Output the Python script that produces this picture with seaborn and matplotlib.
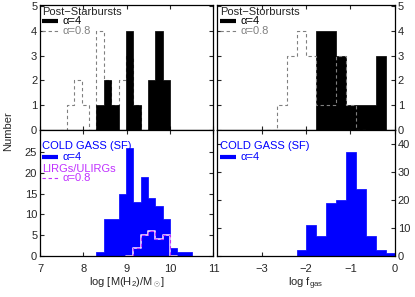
import numpy as np
import pandas as pd
import matplotlib
matplotlib.use('Agg')
import matplotlib.pyplot as plt
import seaborn as sns

# histogram bins: log M(H2) in 0.17 dex steps, log f_gas in 0.2225 dex steps
mass_width = 0.17
fgas_width = 0.2225

# Post-Starbursts, log M(H2)  (lower edge of first bin, counts)
ps_mass_a4_lo = 8.30
ps_mass_a4 = [1, 2, 1, 0, 4, 1, 0, 2, 4, 2]
ps_mass_a08_lo = 7.45
ps_mass_a08 = [0, 1, 2, 1, 0, 4, 2, 1, 2, 3, 1, 0]

# Post-Starbursts, log f_gas
ps_fgas_a4_lo = -1.767
ps_fgas_a4 = [4, 4, 3, 1, 1, 1, 3]
ps_fgas_a08_lo = -2.8795
ps_fgas_a08 = [0, 1, 3, 4, 3, 1, 1, 3, 1, 0]

# COLD GASS (SF) and LIRGs/ULIRGs
cg_mass_lo = 8.30
cg_mass = [1, 9, 9, 15, 26, 13, 19, 14, 12, 9, 2, 1, 1]
lirg_mass_lo = 8.98
lirg_mass = [0, 2, 5, 6, 4, 5, 0]
cg_fgas_lo = -2.212
cg_fgas = [2, 11, 7, 19, 20, 37, 24, 7, 2, 1]

mass_ticks = [7, 8, 9, 10, 11]
fgas_ticks = [-3, -2, -1, 0]

BLUE = '#0000ff'
MAG = '#c030ff'
GRAY = '#808080'

sns.set_style('ticks')
plt.rcParams['font.family'] = ['Liberation Sans', 'DejaVu Sans']
plt.rcParams['mathtext.fontset'] = 'custom'
plt.rcParams['mathtext.rm'] = 'Liberation Sans'
plt.rcParams['mathtext.it'] = 'Liberation Sans'
plt.rcParams['axes.linewidth'] = 0.9
plt.rcParams['axes.edgecolor'] = 'black'


def hist(ax, lo, width, counts, **kw):
    counts = np.asarray(counts, dtype=float)
    edges = lo + width * np.arange(len(counts) + 1)
    df = pd.DataFrame({'x': edges[:-1] + width / 2, 'n': counts})
    sns.histplot(data=df, x='x', weights='n', bins=list(edges), ax=ax,
                 element='step', legend=False, **kw)


def key(ax, y, txt, color, ls='-', lw=3.0, x0=0.012, x1=0.105, xt=0.13):
    ax.plot([x0, x1], [y, y], transform=ax.transAxes, color=color,
            ls=ls, lw=lw, solid_capstyle='butt', clip_on=False)
    ax.text(xt, y, txt, transform=ax.transAxes, color=color,
            fontsize=8, va='center', ha='left')


fig = plt.figure(figsize=(4.15, 2.97), dpi=100)
ax_tl = fig.add_axes([0.0964, 0.5623, 0.418, 0.4209])
ax_tr = fig.add_axes([0.5229, 0.5623, 0.4289, 0.4209])
ax_bl = fig.add_axes([0.0964, 0.138, 0.418, 0.4242])
ax_br = fig.add_axes([0.5229, 0.138, 0.4289, 0.4242])

dash = (0, (3, 2.5))

# top left: filled alpha=4 histogram covers the dashed one
hist(ax_tl, ps_mass_a08_lo, mass_width, ps_mass_a08, fill=False,
     color=GRAY, linestyle=dash, linewidth=0.8, zorder=1)
hist(ax_tl, ps_mass_a4_lo, mass_width, ps_mass_a4, fill=True,
     color='black', edgecolor='black', alpha=1, linewidth=0.5, zorder=3)

# top right: dashed drawn over the filled one
hist(ax_tr, ps_fgas_a4_lo, fgas_width, ps_fgas_a4, fill=True,
     color='black', edgecolor='black', alpha=1, linewidth=0.5, zorder=1)
hist(ax_tr, ps_fgas_a08_lo, fgas_width, ps_fgas_a08, fill=False,
     color=GRAY, linestyle=dash, linewidth=0.8, zorder=3)

# bottom left
hist(ax_bl, cg_mass_lo, mass_width, cg_mass, fill=True,
     color=BLUE, edgecolor=BLUE, alpha=1, linewidth=0.5, zorder=1)
hist(ax_bl, lirg_mass_lo, mass_width, lirg_mass, fill=False,
     color='#f4d8ff', linewidth=1.2, zorder=3)
hist(ax_bl, lirg_mass_lo, mass_width, lirg_mass, fill=False,
     color=MAG, linestyle=dash, linewidth=0.8, zorder=4)

# bottom right
hist(ax_br, cg_fgas_lo, fgas_width, cg_fgas, fill=True,
     color=BLUE, edgecolor=BLUE, alpha=1, linewidth=0.5, zorder=1)

for ax in (ax_tl, ax_bl):
    ax.set_xlim(7, 11)
    ax.set_xticks(mass_ticks)
for ax in (ax_tr, ax_br):
    ax.set_xlim(-4, 0)
    ax.set_xticks(fgas_ticks)

ax_tl.set_ylim(0, 5.05)
ax_tr.set_ylim(0, 5.05)
ax_tl.set_yticks(range(6))
ax_tr.set_yticks(range(6))
ax_bl.set_ylim(0, 30.3)
ax_bl.set_yticks([0, 5, 10, 15, 20, 25])
ax_br.set_ylim(0, 45)
ax_br.set_yticks([0, 10, 20, 30, 40])

for ax in (ax_tl, ax_tr, ax_bl, ax_br):
    ax.set_xlabel('')
    ax.set_ylabel('')
    ax.tick_params(direction='in', top=True, right=True, length=3,
                   width=0.8, labelsize=8, pad=2)
    for s in ax.spines.values():
        s.set_zorder(5)

ax_tl.tick_params(labelbottom=False)
ax_tr.tick_params(labelbottom=False, labelleft=False, labelright=True)
ax_br.tick_params(labelleft=False, labelright=True)
ax_bl.tick_params(pad=6, axis='x')
ax_br.tick_params(pad=6, axis='x')

ax_bl.set_xlabel('log [M(H$_2$)/M$_\\odot$]', fontsize=8, labelpad=1)
ax_br.set_xlabel('log f$_{gas}$', fontsize=8, labelpad=1)
fig.text(0.02, 0.56, 'Number', rotation=90, fontsize=8,
         ha='center', va='center')

# keys
ax_tl.text(0.012, 0.946, 'Post\u2212Starbursts', transform=ax_tl.transAxes,
           fontsize=8, va='center')
key(ax_tl, 0.874, '\u03b1=4', 'black')
key(ax_tl, 0.794, '\u03b1=0.8', GRAY, ls=dash, lw=0.8)

ax_tr.text(0.017, 0.946, 'Post\u2212Storbursts', transform=ax_tr.transAxes,
           fontsize=8, va='center')
key(ax_tr, 0.874, '\u03b1=4', 'black', x0=0.017, x1=0.107, xt=0.133)
key(ax_tr, 0.794, '\u03b1=0.8', GRAY, ls=dash, lw=0.8, x0=0.017, x1=0.107, xt=0.133)

ax_bl.text(0.012, 0.875, 'COLD GASS (SF)', transform=ax_bl.transAxes,
           fontsize=8, va='center', color=BLUE)
key(ax_bl, 0.783, '\u03b1=4', BLUE)
ax_bl.text(0.012, 0.69, 'LIRGs/ULIRGs', transform=ax_bl.transAxes,
           fontsize=8, va='center', color=MAG)
key(ax_bl, 0.617, '\u03b1=0.8', MAG, ls=dash, lw=0.8)

ax_br.text(0.017, 0.875, 'COLD GASS (SF)', transform=ax_br.transAxes,
           fontsize=8, va='center', color=BLUE)
key(ax_br, 0.788, '\u03b1=4', BLUE, x0=0.017, x1=0.107, xt=0.133)

fig.savefig('out.png', dpi=100)
